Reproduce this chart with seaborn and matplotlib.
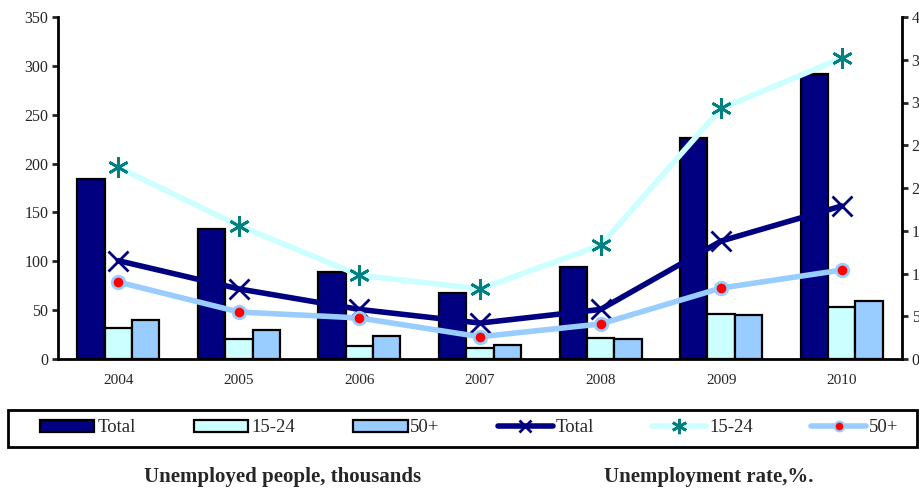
# Unemployment 2004-2010: people (bars, left axis) and rate (lines, right axis)

import pandas as pd
import matplotlib.pyplot as plt
import seaborn as sns
from matplotlib.patches import Patch, Rectangle
from matplotlib.lines import Line2D

# Data
years = ['2004', '2005', '2006', '2007', '2008', '2009', '2010']
people_total = [184, 133, 89, 68, 94, 226, 292]
people_15_24 = [32, 20, 13, 11, 21, 46, 53]
people_50 = [40, 30, 24, 14, 20, 45, 59]
rate_total = [11.5, 8.2, 5.8, 4.2, 5.8, 13.8, 17.9]
rate_15_24 = [22.4, 15.6, 9.8, 8.2, 13.3, 29.3, 35.2]
rate_50 = [9.0, 5.5, 4.8, 2.6, 4.1, 8.3, 10.4]

groups = ['Total', '15-24', '50+']
bar_colors = ['#000080', '#CCFFFF', '#99CCFF']

# long-form table for barplot
bars = pd.DataFrame({
    'year': years * 3,
    'group': [g for g in groups for _ in years],
    'people': people_total + people_15_24 + people_50,
})

sns.set_style('white')
plt.rcParams['font.family'] = ['Liberation Serif', 'DejaVu Serif']

fig = plt.figure(figsize=(9.19, 4.88), dpi=100)
ax = fig.add_axes([58 / 919, 129 / 488, 844 / 919, 342 / 488])

sns.barplot(
    data=bars, x='year', y='people', hue='group', hue_order=groups,
    palette=bar_colors, width=0.68, gap=0, edgecolor='black',
    linewidth=1.6, saturation=1, legend=False, ax=ax
)
ax.set_ylim(0, 350)
ax.set_yticks(range(0, 351, 50))
ax.set_xlim(-0.5, 6.5)
ax.set_xlabel('')
ax.set_ylabel('')

# second axis for rates
ax2 = ax.twinx()
x = list(range(len(years)))
ax2.plot(x, rate_15_24, color='#CCFFFF', lw=4, marker=(6, 2, 0), ms=15,
         mec='#008080', mew=2, zorder=3)
ax2.plot(x, rate_total, color='#000080', lw=4, marker='x', ms=14,
         mec='#000080', mew=2, zorder=4)
ax2.plot(x, rate_50, color='#99CCFF', lw=4, marker='o', ms=9,
         mfc='red', mec='#99CCFF', mew=2, zorder=5)
ax2.set_ylim(0, 40)
ax2.set_yticks(range(0, 41, 5))

# axes styling
for a in (ax, ax2):
    for s in a.spines.values():
        s.set_linewidth(2)
        s.set_color('black')
    a.spines['top'].set_visible(False)
ax2.spines['left'].set_visible(False)
ax2.spines['bottom'].set_visible(False)
ax.spines['right'].set_visible(False)

ax.tick_params(axis='y', direction='out', length=4, width=2, labelsize=11.5, pad=3)
ax2.tick_params(axis='y', direction='out', length=4, width=2, labelsize=11.5, pad=3)
ax.set_xticks(x)
ax.set_xticklabels(years, fontsize=11)
ax.tick_params(axis='x', which='major', length=0, pad=11)
ax.set_xticks([i - 0.5 for i in range(len(years) + 1)], minor=True)
ax.tick_params(axis='x', which='minor', direction='out', length=4, width=2)

# legend: frame drawn separately, entries spread across it
fig.patches.append(Rectangle((8 / 919, 41 / 488), 909 / 919, 37 / 488,
                             transform=fig.transFigure, fill=False,
                             edgecolor='black', linewidth=2))
handles = [Patch(facecolor=c, edgecolor='black', linewidth=1.6) for c in bar_colors]
handles += [
    Line2D([], [], color='#000080', lw=4, marker='x', ms=9, mec='#000080', mew=2),
    Line2D([], [], color='#CCFFFF', lw=4, marker=(6, 2, 0), ms=11, mec='#008080', mew=2),
    Line2D([], [], color='#99CCFF', lw=4, marker='o', ms=7, mfc='red', mec='#99CCFF', mew=1.5),
]
labels = groups + groups
fig.legend(
    handles, labels, ncol=6, loc='center', mode='expand',
    bbox_to_anchor=(40 / 919, 48 / 488, 858 / 919, 24 / 488),
    frameon=False, fontsize=13.5, handlelength=2.9, handleheight=0.55,
    handletextpad=0.15, borderaxespad=0, borderpad=0
)

fig.text(283 / 919, 11 / 488, 'Unemployed people, thousands', ha='center',
         va='center', fontsize=15, fontweight='bold')
fig.text(709 / 919, 11 / 488, 'Unemployment rate,%.', ha='center',
         va='center', fontsize=15, fontweight='bold')

fig.savefig('out.png', dpi=100)
